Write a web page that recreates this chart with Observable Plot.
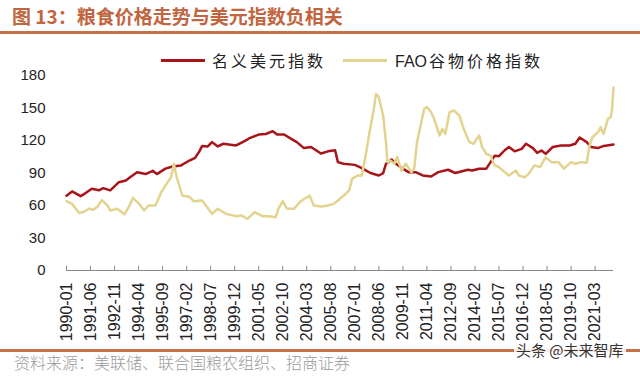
<!DOCTYPE html>
<html>
<head>
<meta charset="utf-8">
<script src="https://cdn.jsdelivr.net/npm/d3@7"></script>
<script src="https://cdn.jsdelivr.net/npm/@observablehq/plot@0.6"></script>
<style>
  body { margin: 0; width: 640px; height: 376px; position: relative; overflow: hidden; background: #fff; font-family: "Noto Sans CJK SC", sans-serif; }
  #title { position: absolute; left: 12px; top: 5px; font-size: 19px; line-height: 22px; font-weight: bold; color: #C0653F; white-space: nowrap; }
  #rule1 { position: absolute; left: 0; top: 31px; width: 640px; height: 3px; background: #C8704A; }
  #chart { position: absolute; left: 0; top: 40px; }
  .sw { position: absolute; height: 2.5px; top: 59px; }
  .lt { position: absolute; top: 49px; font-size: 16px; line-height: 22px; letter-spacing: 3px; color: #222; white-space: nowrap; }
  .lt .lat { letter-spacing: 0; font-family: "Liberation Sans", Arial, sans-serif; margin-right: 2px; }
  #rule2 { position: absolute; left: 0; top: 349px; width: 640px; height: 3px; background: #C8704A; }
  #source { position: absolute; left: 14px; top: 352px; font-size: 16px; line-height: 20px; color: #9a9a9a; white-space: nowrap; font-weight: 300; }
  #wm { position: absolute; left: 514px; top: 340px; font-size: 15px; line-height: 20px; color: #333; white-space: nowrap; background: rgba(255,255,255,0.85); padding: 0 2px; }
</style>
</head>
<body>
<div id="title">图 13：粮食价格走势与美元指数负相关</div>
<div id="rule1"></div>
<div id="chart"></div>
<div id="rule2"></div>
<div id="source">资料来源：美联储、联合国粮农组织、招商证券</div>
<div id="wm">头条 @未来智库</div>
<script>
// ---- data ----
const seriesNames = ["名义美元指数", "FAO谷物价格指数"];
const seriesColors = ["#A8141A", "#E2D38F"];

const usdDates = ["1990-01","1990-05","1990-11","1991-02","1991-07","1991-12","1992-03","1992-08","1993-02","1993-07","1993-10","1994-03","1994-09","1995-02","1995-05","1995-11","1996-04","1996-10","1997-04","1997-08","1997-11","1998-01","1998-05","1998-08","1998-12","1999-04","2000-01","2000-07","2000-11","2001-05","2001-10","2002-03","2002-06","2002-11","2003-04","2003-08","2004-01","2004-06","2005-01","2005-06","2005-11","2006-01","2006-05","2007-01","2007-06","2007-12","2008-06","2008-09","2008-11","2009-03","2009-06","2009-11","2010-03","2010-08","2011-01","2011-07","2011-12","2012-07","2012-12","2013-09","2013-12","2014-05","2014-10","2015-01","2015-04","2015-07","2015-11","2016-02","2016-06","2016-11","2017-02","2017-07","2017-10","2018-01","2018-04","2018-09","2019-03","2019-09","2020-01","2020-04","2020-09","2020-12","2021-05","2021-09","2022-04"];
const usdValues = [69,73,68.6,71,75.4,74,76,74,81.5,83,86,90.7,89,92,89,94,96,97,101.5,104,110,115,114.5,118.5,114.5,117,115.4,119.4,122.5,125.5,126,128.6,125.5,125.5,121.5,118.5,113,114,108,110,111,100,98.5,97.5,94.5,90,87.7,89.8,98.5,102.5,98.5,94,90.8,90.8,87.7,86.8,90.8,93,90,93,92.3,94,94,100,106,105.5,111,114,110,112.3,117,113,108.6,110.8,107.7,114,115.4,115.4,117,122.8,118.5,114,113,115,116.3];

const faoDates = ["1990-01","1990-05","1990-10","1991-01","1991-05","1991-08","1991-11","1992-02","1992-06","1992-08","1993-01","1993-06","1993-09","1993-12","1994-04","1994-08","1994-11","1995-04","1995-08","1995-11","1996-03","1996-05","1996-07","1996-11","1997-04","1997-07","1998-01","1998-08","1998-12","1999-06","2000-01","2000-05","2000-09","2001-02","2001-08","2001-12","2002-05","2002-07","2002-10","2003-01","2003-06","2003-10","2004-01","2004-05","2004-08","2005-01","2005-06","2005-10","2006-01","2006-05","2006-09","2006-11","2007-03","2007-06","2007-09","2007-11","2008-02","2008-04","2008-06","2008-09","2008-11","2008-12","2009-02","2009-05","2009-07","2009-10","2010-01","2010-05","2010-07","2010-09","2010-11","2011-02","2011-04","2011-07","2011-09","2012-01","2012-03","2012-05","2012-08","2012-11","2013-03","2013-06","2013-10","2014-01","2014-05","2014-07","2014-10","2015-01","2015-04","2015-07","2015-11","2016-02","2016-07","2016-09","2017-01","2017-04","2017-08","2017-12","2018-04","2018-08","2019-01","2019-05","2019-10","2020-01","2020-05","2020-09","2020-11","2021-01","2021-05","2021-07","2021-09","2021-12","2022-02","2022-03","2022-04"];
const faoValues = [64,61.5,53,54,57,56,59,65,60,55.4,57,52,58.5,67,62,55.4,60,60,72,78.5,86,98.5,86,69,68,64,64.6,52.3,57,52.3,50,50.8,47.7,53.8,50,50,49.2,57,64,57,57,63,66,69,60,59,60,61.5,64.6,69,74,84.6,87.7,87.7,109,124.6,146,163,160,143,118.5,100,101.5,98.5,104.6,92.3,98.5,90.8,94,118.5,130.8,149,150.8,146,140,124.6,130.8,126,146,147.7,143,130.8,118.5,117,124.6,114,107.7,106,97,95.4,90.8,87.7,92.3,87.7,86,89.2,97,95.4,104.6,100,100,94,100,98.5,100,99.4,115.4,123,127.7,132.3,126,140,141.5,149,169];

const xTickLabels = ["1990-01","1991-06","1992-11","1994-04","1995-09","1997-02","1998-07","1999-12","2001-05","2002-10","2004-03","2005-08","2007-01","2008-06","2009-11","2011-04","2012-09","2014-02","2015-07","2016-12","2018-05","2019-10","2021-03"];
const yTicks = [0, 30, 60, 90, 120, 150, 180];
const xStart = "1990-01", xEnd = "2022-04";

// ---- build ----
const parse = d3.utcParse("%Y-%m");
const usd = usdDates.map((d, i) => ({date: parse(d), value: usdValues[i]}));
const fao = faoDates.map((d, i) => ({date: parse(d), value: faoValues[i]}));
const xTicks = xTickLabels.map(parse);

const chart = Plot.plot({
  width: 640,
  height: 310,
  marginTop: 35,
  marginBottom: 80,
  marginLeft: 66,
  marginRight: 27,
  style: {fontFamily: "'Liberation Sans', Arial, sans-serif", fontSize: "15px", color: "#222", background: "transparent"},
  x: {type: "utc", domain: [parse(xStart), parse(xEnd)], label: null},
  y: {domain: [0, 180], label: null},
  marks: [
    Plot.axisY({ticks: yTicks, tickSize: 0, tickPadding: 21, fontSize: 15, label: null}),
    Plot.axisX({ticks: xTicks, tickFormat: d3.utcFormat("%Y-%m"), tickRotate: -90, tickSize: 0, tickPadding: 12, fontSize: 16, label: null}),
    Plot.ruleX(xTicks, {x: d => d, y1: 0, y2: 4, stroke: "#888", strokeWidth: 1}),
    Plot.ruleY([0], {stroke: "#888", strokeWidth: 1.2}),
    Plot.line(usd, {x: "date", y: "value", stroke: seriesColors[0], strokeWidth: 2.5, curve: "linear"}),
    Plot.line(fao, {x: "date", y: "value", stroke: seriesColors[1], strokeWidth: 2.5, curve: "linear"})
  ]
});
document.getElementById("chart").appendChild(chart);

// legend
const legendPos = [{sw: 161, tx: 212}, {sw: 343, tx: 395}];
seriesNames.forEach((name, i) => {
  const sw = document.createElement("div");
  sw.className = "sw";
  sw.style.left = legendPos[i].sw + "px";
  sw.style.width = "44px";
  sw.style.background = seriesColors[i];
  document.body.appendChild(sw);
  const t = document.createElement("div");
  t.className = "lt";
  t.style.left = legendPos[i].tx + "px";
  const m = name.match(/^([A-Za-z]*)(.*)$/);
  if (m[1]) {
    const s = document.createElement("span");
    s.className = "lat";
    s.textContent = m[1];
    t.appendChild(s);
  }
  t.appendChild(document.createTextNode(m[2]));
  document.body.appendChild(t);
});
</script>
</body>
</html>
